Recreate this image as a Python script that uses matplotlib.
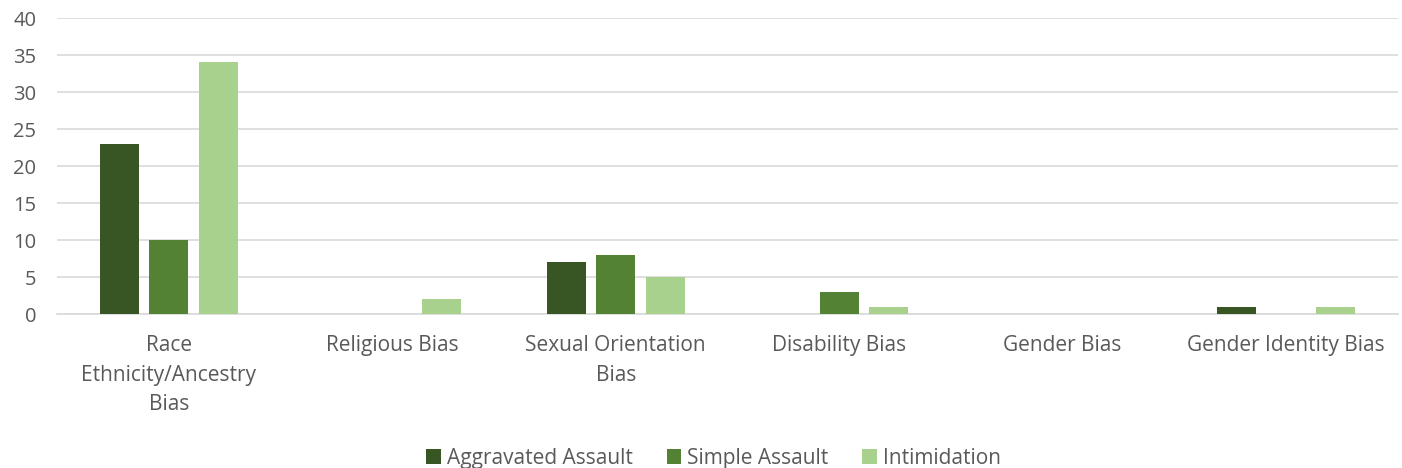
import matplotlib.pyplot as plt
import numpy as np

categories = ['Race\nEthnicity/Ancestry\nBias', 'Religious Bias', 'Sexual Orientation\nBias',
              'Disability Bias', 'Gender Bias', 'Gender Identity Bias']
series_names = ['Aggravated Assault', 'Simple Assault', 'Intimidation']
aggravated = [23, 0, 7, 0, 0, 1]
simple = [10, 0, 8, 3, 0, 0]
intimidation = [34, 2, 5, 1, 0, 1]
colors = ['#375623', '#548235', '#A9D18E']

plt.rcParams['font.family'] = ['Open Sans', 'DejaVu Sans']
text_color = '#595959'

fig = plt.figure(figsize=(14.02, 4.68), dpi=100)
ax = fig.add_axes([0.0407, 0.329, 0.9563, 0.6325])

x = np.arange(len(categories))
width = 0.175
step = 0.221
for i, (vals, name) in enumerate(zip([aggravated, simple, intimidation], series_names)):
    ax.bar(x + (i - 1) * step, vals, width, color=colors[i], label=name, zorder=3)

ax.set_xlim(-0.5, len(categories) - 0.5)
ax.set_ylim(0, 40)
ax.set_yticks(range(0, 41, 5))
ax.yaxis.grid(True, color='#D9D9D9', linewidth=1.2, zorder=0)
ax.set_xticks(x)
ax.set_xticklabels(categories, fontsize=15, color=text_color, linespacing=1.55)
ax.tick_params(axis='y', labelsize=14.5, colors=text_color, length=0, pad=15)
ax.tick_params(axis='x', length=0, pad=15)
for s in ['top', 'right', 'left']:
    ax.spines[s].set_visible(False)
ax.spines['bottom'].set_color('#D9D9D9')
ax.spines['bottom'].set_linewidth(1.2)

leg = fig.legend(loc='lower center', bbox_to_anchor=(0.509, -0.042), ncol=3, frameon=False,
                 fontsize=15, handlelength=0.7, handleheight=0.7, handletextpad=0.3,
                 columnspacing=1.6)
for t in leg.get_texts():
    t.set_color(text_color)

fig.savefig('out.png', dpi=100)
